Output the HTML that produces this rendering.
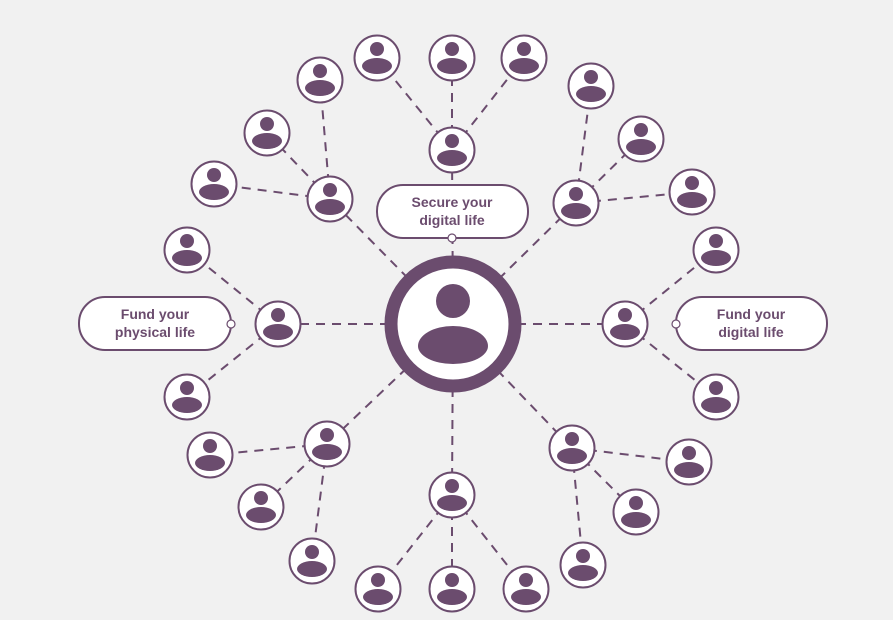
<!DOCTYPE html>
<html><head><meta charset="utf-8"><style>
html,body{margin:0;padding:0;background:#f1f1f1;}
svg{display:block;}
text{font-family:"Liberation Sans",sans-serif;font-weight:bold;font-size:14px;fill:#6b4c6e;text-anchor:middle;}
</style></head><body>
<svg width="893" height="620" viewBox="0 0 893 620">
<defs>
<g id="p">
<circle r="22.5" fill="#fff" stroke="#6b4c6e" stroke-width="2"/>
<circle cy="-9" r="7" fill="#6b4c6e"/>
<ellipse cy="8" rx="15" ry="8" fill="#6b4c6e"/>
</g>
</defs>
<g stroke="#6b4c6e" stroke-width="2" stroke-dasharray="9,7" fill="none">
<line x1="453" y1="324" x2="452" y2="150"/>
<line x1="453" y1="324" x2="278" y2="324"/>
<line x1="453" y1="324" x2="625" y2="324"/>
<line x1="453" y1="324" x2="452" y2="495"/>
<line x1="453" y1="324" x2="330" y2="199"/>
<line x1="453" y1="324" x2="576" y2="203"/>
<line x1="453" y1="324" x2="327" y2="444"/>
<line x1="453" y1="324" x2="572" y2="448"/>
<line x1="452" y1="150" x2="377" y2="58"/>
<line x1="452" y1="150" x2="452" y2="58"/>
<line x1="452" y1="150" x2="524" y2="58"/>
<line x1="330" y1="199" x2="320" y2="80"/>
<line x1="330" y1="199" x2="267" y2="133"/>
<line x1="330" y1="199" x2="214" y2="184"/>
<line x1="576" y1="203" x2="591" y2="86"/>
<line x1="576" y1="203" x2="641" y2="139"/>
<line x1="576" y1="203" x2="692" y2="192"/>
<line x1="278" y1="324" x2="187" y2="250"/>
<line x1="278" y1="324" x2="187" y2="397"/>
<line x1="625" y1="324" x2="716" y2="250"/>
<line x1="625" y1="324" x2="716" y2="397"/>
<line x1="327" y1="444" x2="210" y2="455"/>
<line x1="327" y1="444" x2="261" y2="507"/>
<line x1="327" y1="444" x2="312" y2="561"/>
<line x1="572" y1="448" x2="689" y2="462"/>
<line x1="572" y1="448" x2="636" y2="512"/>
<line x1="572" y1="448" x2="583" y2="565"/>
<line x1="452" y1="495" x2="378" y2="589"/>
<line x1="452" y1="495" x2="452" y2="589"/>
<line x1="452" y1="495" x2="526" y2="589"/>
</g>
<!-- center -->
<circle cx="453" cy="324" r="62" fill="#fff" stroke="#6b4c6e" stroke-width="13"/>
<circle cx="453" cy="301" r="17" fill="#6b4c6e"/>
<path d="M418,346 A35,20 0 0 1 488,346 A35,18 0 0 1 418,346 Z" fill="#6b4c6e"/>
<!-- nodes -->
<use href="#p" x="452" y="150"/><use href="#p" x="278" y="324"/><use href="#p" x="625" y="324"/><use href="#p" x="452" y="495"/>
<use href="#p" x="330" y="199"/><use href="#p" x="576" y="203"/><use href="#p" x="327" y="444"/><use href="#p" x="572" y="448"/>
<use href="#p" x="377" y="58"/><use href="#p" x="452" y="58"/><use href="#p" x="524" y="58"/>
<use href="#p" x="320" y="80"/><use href="#p" x="267" y="133"/><use href="#p" x="214" y="184"/>
<use href="#p" x="591" y="86"/><use href="#p" x="641" y="139"/><use href="#p" x="692" y="192"/>
<use href="#p" x="187" y="250"/><use href="#p" x="187" y="397"/>
<use href="#p" x="716" y="250"/><use href="#p" x="716" y="397"/>
<use href="#p" x="210" y="455"/><use href="#p" x="261" y="507"/><use href="#p" x="312" y="561"/>
<use href="#p" x="689" y="462"/><use href="#p" x="636" y="512"/><use href="#p" x="583" y="565"/>
<use href="#p" x="378" y="589"/><use href="#p" x="452" y="589"/><use href="#p" x="526" y="589"/>
<!-- labels -->
<g stroke="#6b4c6e" stroke-width="2" fill="#fff">
<rect x="377" y="185" width="151" height="53" rx="26"/>
<rect x="79" y="297" width="152" height="53" rx="26"/>
<rect x="676" y="297" width="151" height="53" rx="26"/>
<circle cx="452" cy="238" r="4" stroke-width="1.2"/>
<circle cx="231" cy="324" r="4" stroke-width="1.2"/>
<circle cx="676" cy="324" r="4" stroke-width="1.2"/>
</g>
<text x="452" y="207">Secure your</text><text x="452" y="225">digital life</text>
<text x="155" y="319">Fund your</text><text x="155" y="337">physical life</text>
<text x="751" y="319">Fund your</text><text x="751" y="337">digital life</text>
</svg>
</body></html>
